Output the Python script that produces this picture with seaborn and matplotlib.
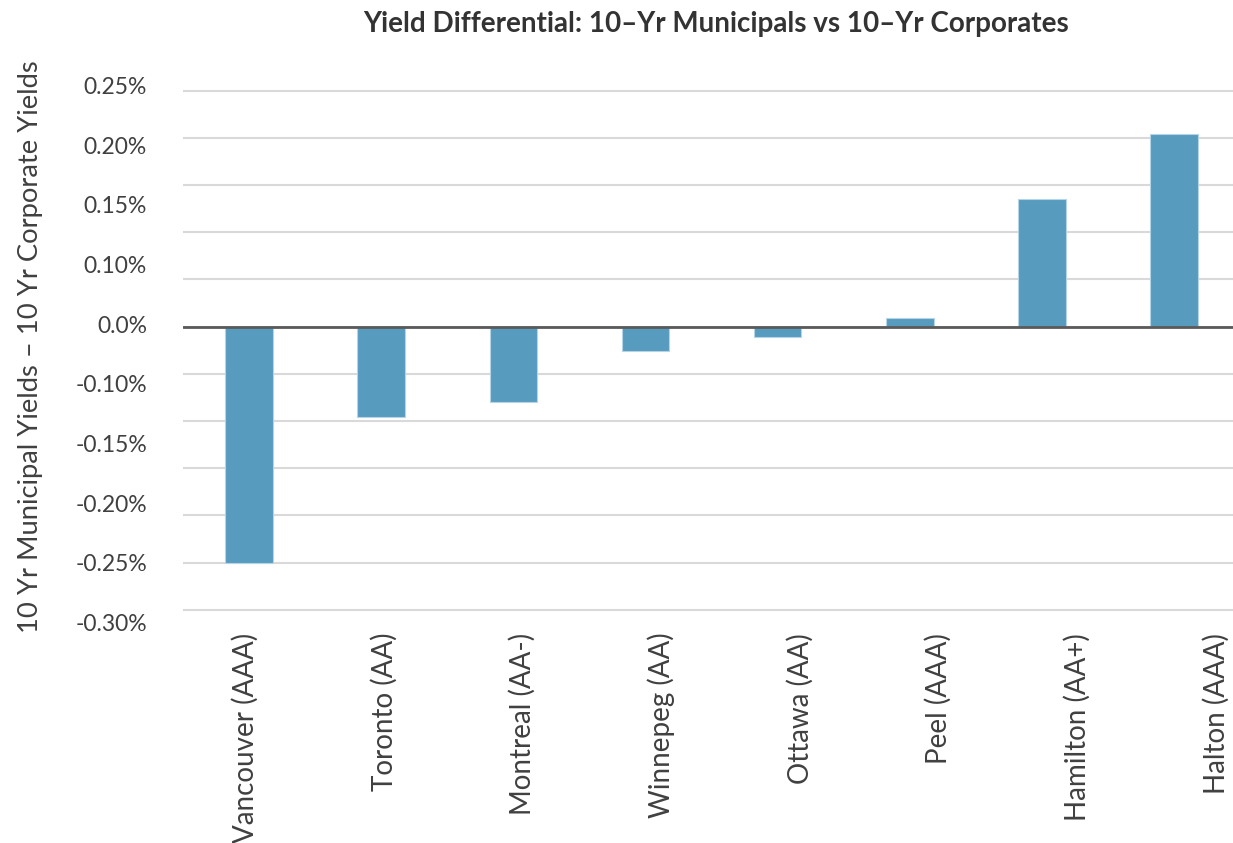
import numpy as np
import pandas as pd
import matplotlib
matplotlib.use("Agg")
import matplotlib.pyplot as plt
import seaborn as sns

# ---- data ----
cities = ["Vancouver (AAA)", "Toronto (AA)", "Montreal (AA-)", "Winnepeg (AA)",
          "Ottawa (AA)", "Peel (AAA)", "Hamilton (AA+)", "Halton (AAA)"]
differential = [-0.250, -0.096, -0.080, -0.026, -0.011, 0.009, 0.135, 0.204]
ytick_labels = ["0.25%", "0.20%", "0.15%", "0.10%", "0.0%", "-0.10%",
                "-0.15%", "-0.20%", "-0.25%", "-0.30%"]
title = "Yield Differential: 10\u2013Yr Municipals vs 10\u2013Yr Corporates"
ylabel = "10 Yr Municipal Yields \u2013 10 Yr Corporate Yields"

df = pd.DataFrame({"city": cities, "diff": differential})

sns.set_theme(style="white")
plt.rcParams["font.family"] = ["Lato", "DejaVu Sans"]

fig = plt.figure(figsize=(12.33, 8.43), dpi=100)
ax = fig.add_axes([0.14842, 0.2543, 0.8573, 0.6495])

sns.barplot(data=df, x="city", y="diff", color="#579BBF", width=0.36,
            saturation=1, edgecolor="#B5D5E6", linewidth=0.8, ax=ax, zorder=3)

ax.set_xlim(-0.5, 7.5)
ax.set_ylim(-0.32, 0.26)

# gridlines at 0.05 steps
ax.set_yticks(np.arange(-0.30, 0.2501, 0.05), minor=True)
ax.grid(True, which="minor", axis="y", color="#D9D9D9", linewidth=1.5, zorder=0)
ax.grid(False, which="major")
ax.axhline(0, color="#5A5A5A", linewidth=2.0, zorder=4)

# tick labels (as in the source, evenly spread)
ax.set_yticks(np.linspace(0.2553, -0.3136, len(ytick_labels)))
ax.set_yticklabels(ytick_labels)
ax.tick_params(axis="y", which="both", length=0, pad=26, labelsize=16.5,
               labelcolor="#404040")

ax.set_xticks(np.arange(len(cities)) * 1.05 - 0.03)
ax.set_xticklabels(cities, rotation=90, ha="center", va="top")
ax.tick_params(axis="x", which="both", length=0, pad=3, labelsize=20,
               labelcolor="#404040")

for s in ax.spines.values():
    s.set_visible(False)

ax.set_xlabel("")
ax.set_ylabel("")
fig.text(0.0250, 0.589, ylabel, rotation=90, ha="center", va="center",
         fontsize=19.7, color="#404040")
fig.text(0.581, 0.971, title, ha="center", va="center", fontsize=20,
         fontweight="bold", color="#333333")

fig.savefig("out.png", dpi=100)
